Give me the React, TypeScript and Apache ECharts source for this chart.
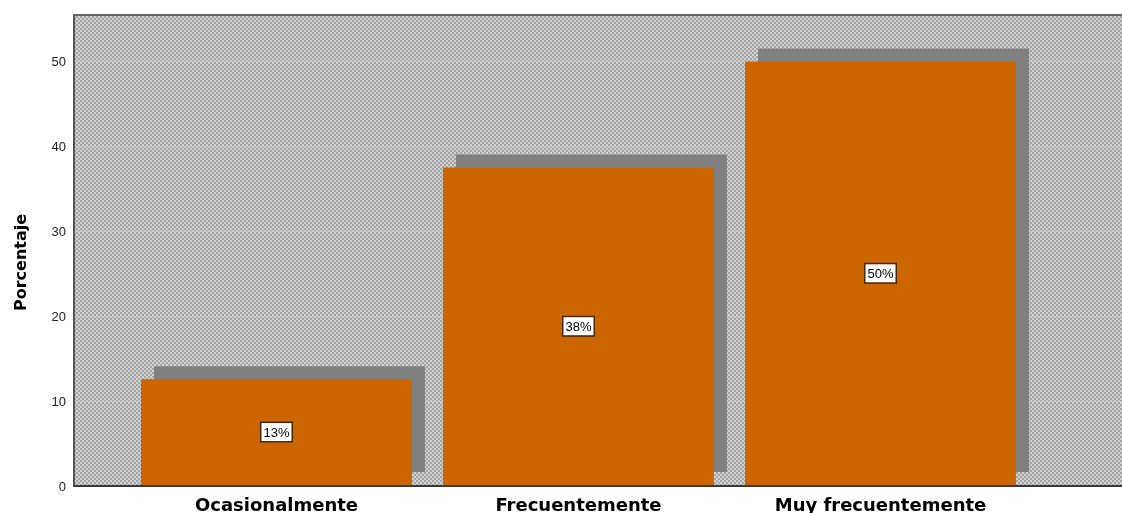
import React, { useEffect, useRef } from "react";
import * as echarts from "echarts";

const categories = ["Ocasionalmente", "Frecuentemente", "Muy frecuentemente"];
const values = [12.5, 37.5, 50];
const yTicks = [0, 10, 20, 30, 40, 50];
const yName = "Porcentaje";

const BAR_RATIO = 0.897;
const SHADOW = 13;
const Y_MAX = 55.5;

const patternSvg =
  "data:image/svg+xml;utf8," +
  encodeURIComponent(
    "<svg xmlns='http://www.w3.org/2000/svg' width='4' height='4'>" +
      "<rect width='4' height='4' fill='#d2d2d2'/>" +
      "<rect width='2' height='2' fill='#a4a4a4'/>" +
      "<rect x='2' y='2' width='2' height='2' fill='#a4a4a4'/>" +
      "</svg>"
  );

export default function App() {
  const ref = useRef<HTMLDivElement>(null);
  useEffect(() => {
    if (!ref.current) return;
    const chart = echarts.init(ref.current, null, { renderer: "svg" });
    const option: any = {
      animation: false,
      grid: [
        {
          left: 74,
          right: 0,
          top: 15,
          bottom: 27,
          show: true,
          borderWidth: 0,
          backgroundColor: {
            image: patternSvg,
            repeat: "repeat",
            imageWidth: 4,
            imageHeight: 4,
          } as any,
        },
        { left: 125.5, width: 906, top: 15, bottom: 27 },
      ],
      xAxis: [
        {
          type: "value",
          gridIndex: 0,
          position: "bottom",
          min: 0,
          max: 1,
          axisLine: { show: true, lineStyle: { color: "#3a3a3a", width: 2 } },
          axisTick: { show: false },
          axisLabel: { show: false },
          splitLine: { show: false },
        },
        {
          type: "value",
          gridIndex: 0,
          position: "top",
          min: 0,
          max: 1,
          axisLine: { show: true, lineStyle: { color: "#666666", width: 2 } },
          axisTick: { show: false },
          axisLabel: { show: false },
          splitLine: { show: false },
        },
        {
          type: "category",
          gridIndex: 1,
          data: categories,
          boundaryGap: true,
          axisLine: { show: false },
          axisTick: { show: false },
          axisLabel: {
            interval: 0,
            margin: 10,
            color: "#000",
            fontSize: 18,
            fontWeight: "bold",
            fontFamily: "DejaVu Sans",
          },
        },
      ],
      yAxis: [
        {
          type: "value",
          gridIndex: 0,
          min: 0,
          max: Y_MAX,
          interval: 10,
          name: yName,
          nameLocation: "middle",
          nameGap: 46,
          nameTextStyle: {
            fontSize: 16,
            fontWeight: "bold",
            color: "#000",
            fontFamily: "DejaVu Sans",
            padding: [0, 24, 0, 0],
          },
          axisLine: { show: true, lineStyle: { color: "#555555", width: 2 } },
          axisTick: { show: false },
          axisLabel: {
            color: "#222",
            fontSize: 13,
            margin: 8,
            fontFamily: "Liberation Sans",
            formatter: (v: number) => (yTicks.includes(v) ? String(v) : ""),
          },
          splitLine: { show: true, lineStyle: { color: "#c9c9c9", width: 1 } },
        },
        {
          type: "value",
          gridIndex: 1,
          min: 0,
          max: Y_MAX,
          show: false,
          splitLine: { show: false },
        },
      ],
      series: [
        {
          type: "custom",
          xAxisIndex: 2,
          yAxisIndex: 1,
          data: values.map((v, i) => [i, v]),
          renderItem: (params: any, api: any) => {
            const idx = api.value(0);
            const v = api.value(1);
            const top = api.coord([idx, v]);
            const base = api.coord([idx, 0]);
            const w = api.size([1, 0])[0] * BAR_RATIO;
            return {
              type: "rect",
              shape: {
                x: top[0] - w / 2 + SHADOW,
                y: top[1] - SHADOW,
                width: w,
                height: base[1] - top[1],
              },
              style: { fill: "#808080" },
            };
          },
          silent: true,
        },
        {
          type: "bar",
          xAxisIndex: 2,
          yAxisIndex: 1,
          data: values,
          barWidth: `${BAR_RATIO * 100}%`,
          itemStyle: { color: "#cc6600" },
          label: {
            show: true,
            position: "inside",
            formatter: (p: any) => `${Math.round(p.value)}%`,
            color: "#000",
            fontSize: 13,
            fontFamily: "Liberation Sans",
            backgroundColor: "#ffffff",
            borderColor: "#4a2500",
            borderWidth: 1.5,
            padding: [3, 2, 2, 2],
          },
        },
      ],
    };
    chart.setOption(option);
    return () => chart.dispose();
  }, []);
  return (
    <div
      ref={ref}
      style={{ position: "fixed", left: 0, top: 0, width: 1122, height: 513 }}
    />
  );
}
